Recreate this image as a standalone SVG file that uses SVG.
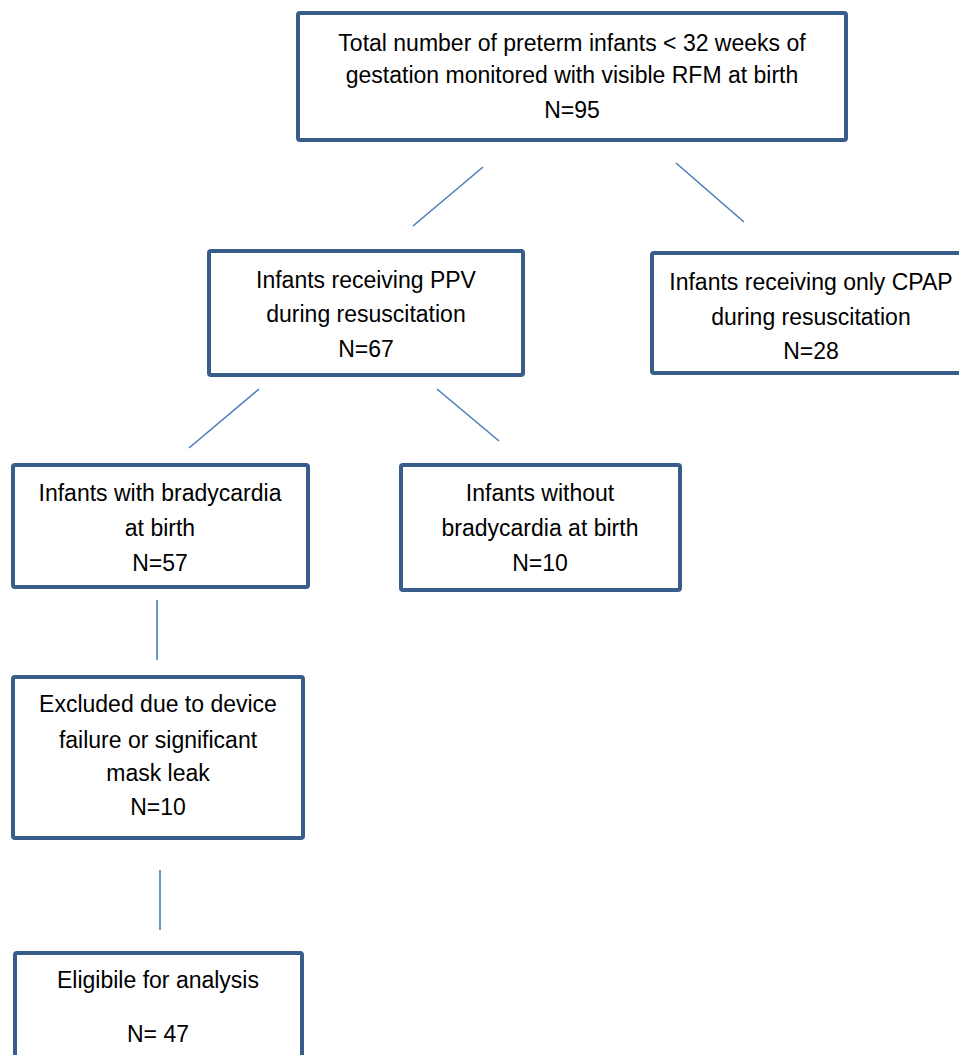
<svg xmlns="http://www.w3.org/2000/svg" width="959" height="1055" viewBox="0 0 959 1055">
<style>
.box{fill:#fff;stroke:#385d8a;stroke-width:4}
.t{font-family:"Liberation Sans",Arial,sans-serif;font-size:23px;fill:#000;text-anchor:middle}
.c{stroke:#4a7ebb;stroke-width:1.6;fill:none}
</style>
<rect width="959" height="1055" fill="#fff"/>
<g id="connectors">
<line class="c" x1="483" y1="167" x2="413" y2="226"/>
<line class="c" x1="676" y1="163" x2="744" y2="222"/>
<line class="c" x1="259" y1="389" x2="189" y2="448"/>
<line class="c" x1="437" y1="389" x2="499" y2="441"/>
<line class="c" x1="157" y1="600" x2="157" y2="660"/>
<line class="c" x1="160" y1="870" x2="160" y2="930"/>
</g>
<g id="n1">
<rect class="box" x="298" y="13" width="548" height="127" rx="2"/>
<text class="t" x="572" y="51">Total number of preterm infants &lt; 32 weeks of</text>
<text class="t" x="572" y="83">gestation monitored with visible RFM at birth</text>
<text class="t" x="572" y="118">N=95</text>
</g>
<g id="n2">
<rect class="box" x="209" y="251" width="314" height="124" rx="2"/>
<text class="t" x="366" y="288">Infants receiving PPV</text>
<text class="t" x="366" y="322">during resuscitation</text>
<text class="t" x="366" y="357">N=67</text>
</g>
<g id="n3">
<rect class="box" x="652" y="253" width="320" height="120" rx="2"/>
<text class="t" x="811" y="290">Infants receiving only CPAP</text>
<text class="t" x="811" y="325">during resuscitation</text>
<text class="t" x="811" y="359">N=28</text>
</g>
<g id="n4">
<rect class="box" x="13" y="465" width="295" height="122" rx="2"/>
<text class="t" x="160" y="501">Infants with bradycardia</text>
<text class="t" x="160" y="536">at birth</text>
<text class="t" x="160" y="571">N=57</text>
</g>
<g id="n5">
<rect class="box" x="401" y="465" width="279" height="125" rx="2"/>
<text class="t" x="540" y="501">Infants without</text>
<text class="t" x="540" y="536">bradycardia at birth</text>
<text class="t" x="540" y="571">N=10</text>
</g>
<g id="n6">
<rect class="box" x="13" y="677" width="290" height="161" rx="2"/>
<text class="t" x="158" y="712">Excluded due to device</text>
<text class="t" x="158" y="748">failure or significant</text>
<text class="t" x="158" y="781">mask leak</text>
<text class="t" x="158" y="815">N=10</text>
</g>
<g id="n7">
<rect class="box" x="15" y="953" width="287" height="120" rx="2"/>
<text class="t" x="158" y="988">Eligibile for analysis</text>
<text class="t" x="158" y="1042">N= 47</text>
</g>
</svg>
